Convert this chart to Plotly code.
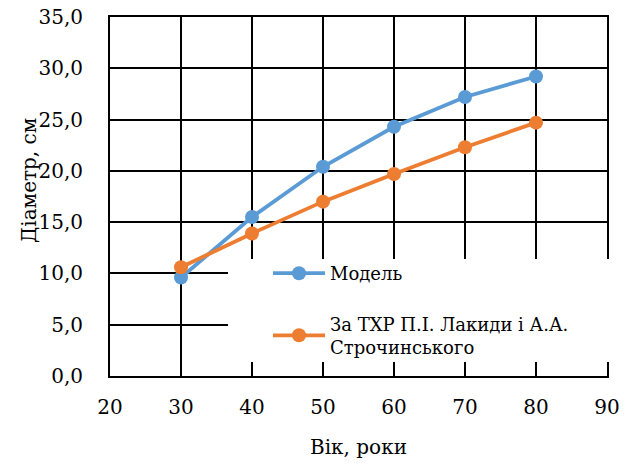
import plotly.graph_objects as go

age = [30, 40, 50, 60, 70, 80]
model = [9.6, 15.5, 20.4, 24.3, 27.2, 29.2]
txr = [10.6, 13.9, 17.0, 19.7, 22.3, 24.7]
names = ["Модель", "За ТХР П.І. Лакиди і А.А.<br>Строчинського"]
x_ticks = [20, 30, 40, 50, 60, 70, 80, 90]
y_ticks = [0, 5, 10, 15, 20, 25, 30, 35]

FONT = "DejaVu Serif"

fig = go.Figure()
fig.add_trace(go.Scatter(x=age, y=model, name=names[0], mode="lines+markers",
                         line=dict(color="#5B9BD5", width=3.8),
                         marker=dict(size=14, color="#5B9BD5"),
                         legendgroup="a"))
fig.add_trace(go.Scatter(x=age, y=txr, name=names[1], mode="lines+markers",
                         line=dict(color="#ED7D31", width=3.8),
                         marker=dict(size=14, color="#ED7D31"),
                         legendgroup="b"))

# white backing behind the legend (hides the grid there, as in the original)
fig.add_shape(type="rect", xref="paper", yref="paper",
              x0=0.2374, x1=1.01, y0=0.039, y1=0.326,
              fillcolor="white", line=dict(width=0), layer="above")

fig.add_annotation(text="Діаметр, см", xref="paper", yref="paper",
                   x=-0.163, y=0.546, xanchor="center", yanchor="middle",
                   textangle=-90, showarrow=False,
                   font=dict(family=FONT, size=20, color="black"))

fig.update_layout(
    width=635, height=464,
    margin=dict(l=110, r=28, t=17, b=88),
    paper_bgcolor="white", plot_bgcolor="white",
    separators=", ",
    font=dict(family=FONT, size=20, color="black"),
    legend=dict(x=(268 - 110) / 497, y=(376 - 255) / 359,
                xanchor="left", yanchor="top",
                bgcolor="rgba(0,0,0,0)", borderwidth=0,
                font=dict(family=FONT, size=18, color="black"),
                traceorder="grouped", tracegroupgap=24, itemwidth=52),
    xaxis=dict(range=[20, 90], tickvals=x_ticks, showgrid=True,
               gridcolor="black", gridwidth=1.8, showline=True,
               linecolor="black", linewidth=1.8, mirror=True,
               zeroline=False, ticks="outside", ticklen=12, tickcolor="white",
               automargin=False,
               title=dict(text="Вік, роки", font=dict(size=20), standoff=22)),
    yaxis=dict(range=[0, 35], tickvals=y_ticks, tickformat=".1f",
               showgrid=True, gridcolor="black", gridwidth=1.8,
               showline=True, linecolor="black", linewidth=1.8, mirror=True,
               zeroline=False, ticks="outside", ticklen=21, tickcolor="white",
               automargin=False),
)

fig.write_html("out.html")
